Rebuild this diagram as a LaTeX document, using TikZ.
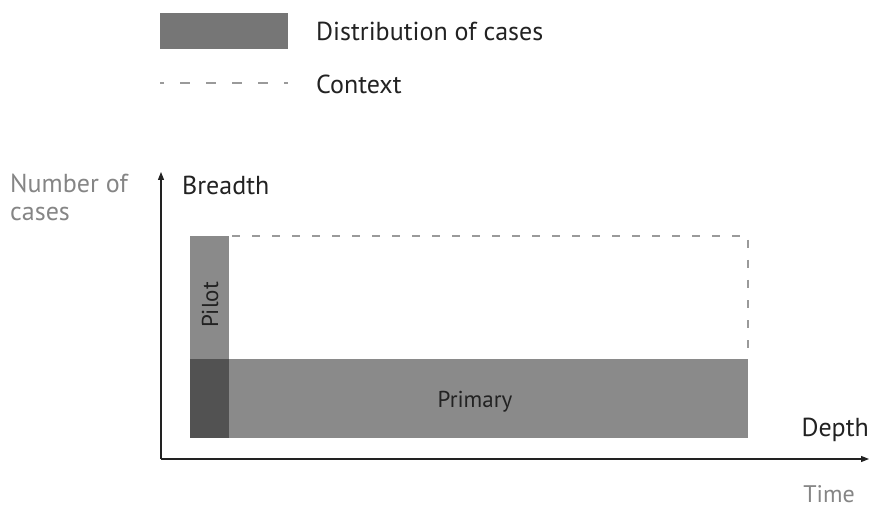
\documentclass[tikz,border=0pt]{standalone}
\usepackage{fontspec}
\setmainfont{PT Sans}
\usetikzlibrary{arrows.meta}
\definecolor{barlight}{HTML}{8A8A8A}
\definecolor{bardark}{HTML}{525252}
\definecolor{legendbar}{HTML}{767676}
\definecolor{ctxgray}{HTML}{9A9A9A}
\definecolor{inktext}{HTML}{222222}
\definecolor{softtext}{HTML}{858585}
\begin{document}
\begin{tikzpicture}[x=1pt,y=-1pt,
  lbl/.style={font=\fontsize{26}{28}\selectfont, text=inktext, inner sep=0pt},
  softlbl/.style={font=\fontsize{26}{28}\selectfont, text=softtext, inner sep=0pt},
  barlbl/.style={font=\fontsize{23}{26}\selectfont, text=inktext, inner sep=0pt},
  ctx/.style={draw=ctxgray, line width=1.2pt, dash pattern=on 8pt off 12pt},
  axis/.style={draw=inktext, line width=1.1pt, -{Triangle[length=8pt,width=6pt]}}]
\useasboundingbox (0,0) rectangle (874,510);
% legend
\fill[legendbar] (160,13) rectangle (288,49);
\node[lbl, anchor=west] (ldist) at (316,31) {Distribution of cases};
\draw[ctx, dash pattern=on 4pt off 16pt on 10pt off 16pt on 10pt off 16pt on 10pt off 16pt on 10pt off 16pt on 4pt] (160,83) -- (288,83);
\node[lbl, anchor=west] (lctx) at (316,84) {Context};
% bars
\fill[barlight] (190,236) rectangle (229,359);
\fill[bardark] (190,359) rectangle (229,438);
\fill[barlight] (229,359) rectangle (748,438);
\node[barlbl, rotate=90] (pilot) at (210,305) {Pilot};
\node[barlbl] (primary) at (475,402) {Primary};
% context outline
\draw[ctx] (232,236) -- (748,236) -- (748,356);
% axes
\coordinate (origin) at (161,459);
\coordinate (ytop) at (161,172);
\coordinate (xend) at (869,459);
\draw[axis] (origin) -- (ytop);
\draw[axis] (origin) -- (xend);
\node[lbl, anchor=west] (breadth) at (182,185) {Breadth};
\node[softlbl, anchor=north west, align=left] (ncases) at (10,174) {Number of\\cases};
\node[lbl, anchor=east] (depth) at (869,430) {Depth};
\node[softlbl, font=\fontsize{24}{26}\selectfont, anchor=east] (time) at (855,494) {Time};
\end{tikzpicture}
\end{document}
